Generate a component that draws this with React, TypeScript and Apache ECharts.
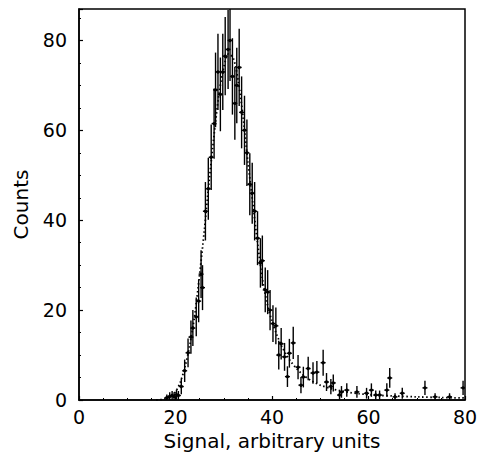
import React, { useEffect, useRef } from "react";
import * as echarts from "echarts";

// Measured points: signal (bin centre), counts, statistical error
const signal = [
  18.2, 18.8, 19.3, 19.7, 20.2, 20.6, 21.2, 21.9, 22.6, 23.2, 23.6, 24.3, 24.8, 25.3, 25.6,
  26.2, 26.8, 27.4, 28.0, 28.3, 28.8, 29.3, 29.8, 30.3, 30.9, 31.3, 31.8, 32.3, 32.7, 33.2,
  33.7, 34.3, 34.8, 35.4, 35.9, 36.4, 37.0, 37.6, 38.0, 38.6, 39.1, 39.6, 40.2, 40.8, 41.4,
  41.9, 42.6, 43.2, 43.6, 44.4, 45.4, 46.0, 46.5, 47.5, 48.5, 49.3, 50.6, 51.3, 52.2, 52.7,
  54.0, 54.4, 55.5, 57.6, 59.6, 60.6, 61.5, 62.3, 63.8, 64.4, 65.5, 67.0, 71.7, 73.8, 76.8,
  79.6,
];
const counts = [
  0.5, 0.8, 1.0, 0.8, 1.2, 1.0, 3.0, 6.5, 10.5, 14.0, 16.0, 18.5, 22.0, 28.0, 25.0,
  42.0, 47.0, 54.0, 61.5, 69.0, 73.0, 68.0, 73.0, 76.5, 78.0, 80.0, 72.0, 66.0, 70.0, 74.0,
  64.0, 60.0, 55.0, 48.0, 46.0, 42.0, 36.0, 30.5, 31.0, 24.5, 24.0, 20.0, 17.0, 16.5, 10.0,
  12.5, 9.6, 5.2, 10.4, 12.7, 7.3, 3.3, 5.1, 7.0, 6.0, 6.2, 8.3, 4.0, 3.0, 3.8,
  1.1, 1.8, 2.2, 1.8, 1.5, 2.2, 1.1, 1.1, 2.2, 4.9, 0.7, 1.5, 2.7, 0.7, 0.7,
  2.7,
];
const errors = [
  0.7, 0.9, 1.0, 0.9, 1.1, 1.0, 1.7, 2.5, 3.2, 3.7, 4.0, 4.3, 4.7, 5.3, 5.0,
  6.5, 6.9, 7.3, 7.8, 8.3, 8.5, 8.2, 8.5, 8.7, 8.8, 9.0, 8.5, 8.1, 8.4, 8.6,
  8.0, 7.7, 7.4, 6.9, 6.8, 6.5, 6.0, 5.5, 5.6, 5.0, 4.9, 4.5, 4.1, 4.1, 3.2,
  3.5, 3.1, 2.3, 3.2, 3.6, 2.7, 1.8, 2.3, 2.6, 2.4, 2.5, 2.9, 2.0, 1.7, 1.9,
  1.0, 1.3, 1.5, 1.3, 1.2, 1.5, 1.0, 1.0, 1.5, 2.2, 0.8, 1.2, 1.6, 0.8, 0.8,
  1.6,
];

// Fitted curve (dotted)
const fitX = [
  16, 17, 18, 19, 20, 21, 22, 23, 24, 25, 26, 27, 28, 29, 30, 31, 32, 33, 34, 35,
  36, 37, 38, 39, 40, 41, 42, 43, 44, 45, 46, 47, 48, 49, 50, 52, 54, 56, 58, 60,
  62, 65, 70, 75, 80,
];
const fitY = [
  0, 0.1, 0.3, 0.8, 1.8, 4, 7.5, 12.5, 19, 28, 38, 49, 59, 68, 74, 77, 76, 71, 63, 53,
  44, 35, 27, 21.5, 17.5, 14.5, 12, 10, 8.4, 7.1, 6, 5.1, 4.4, 3.8, 3.3, 2.6, 2.1, 1.7, 1.4, 1.2,
  1.05, 0.9, 0.7, 0.55, 0.45,
];

const xTicks = [0, 20, 40, 60, 80];
const yTicks = [0, 20, 40, 60, 80];

export default function App() {
  const ref = useRef<HTMLDivElement>(null);
  useEffect(() => {
    document.body.style.margin = "0";
    const chart = echarts.init(ref.current!, null, { renderer: "svg" });
    const font = "'DejaVu Sans', Arial, Helvetica, sans-serif";
    const points = signal.map((s, i) => [s, counts[i], errors[i]]);
    const fit = fitX.map((s, i) => [s, fitY[i]]);
    chart.setOption({
      animation: false,
      backgroundColor: "#fff",
      grid: {
        left: 79,
        right: 15,
        top: 9,
        bottom: 55,
        containLabel: false,
        outerBoundsMode: "none",
        show: true,
        borderColor: "#000",
        borderWidth: 1.5,
      },
      xAxis: {
        type: "value",
        min: xTicks[0],
        max: xTicks[xTicks.length - 1],
        interval: 20,
        name: "Signal, arbitrary units",
        nameLocation: "middle",
        nameGap: 29,
        nameTextStyle: { fontFamily: font, fontSize: 20, color: "#000" },
        axisLine: { show: true, lineStyle: { color: "#000", width: 1.5 } },
        axisTick: { show: true, inside: true, length: 4, lineStyle: { color: "#000", width: 1.2 } },
        minorTick: { show: true, splitNumber: 4, length: 2, lineStyle: { color: "#000", width: 1 } },
        axisLabel: {
          fontFamily: font,
          fontSize: 19,
          color: "#000",
          margin: 7,
          formatter: (v: number) => (xTicks.includes(v) ? String(v) : ""),
        },
        splitLine: { show: false },
      },
      yAxis: {
        type: "value",
        min: yTicks[0],
        max: 87,
        interval: 20,
        name: "Counts",
        nameLocation: "middle",
        nameGap: 48,
        nameTextStyle: { fontFamily: font, fontSize: 20, color: "#000" },
        axisLine: { show: true, lineStyle: { color: "#000", width: 1.5 } },
        axisTick: { show: true, inside: true, length: 4, lineStyle: { color: "#000", width: 1.2 } },
        minorTick: { show: true, splitNumber: 4, length: 2, lineStyle: { color: "#000", width: 1 } },
        axisLabel: {
          fontFamily: font,
          fontSize: 19,
          color: "#000",
          margin: 12,
          showMaxLabel: false,
          formatter: (v: number) => (yTicks.includes(v) ? String(v) : ""),
        },
        splitLine: { show: false },
      },
      series: [
        {
          type: "line",
          data: fit,
          smooth: 0.3,
          symbol: "none",
          lineStyle: { color: "#000", width: 1.8, type: [1.5, 2.5] },
          z: 2,
        },
        {
          type: "custom",
          clip: true,
          data: points,
          z: 3,
          renderItem: (params: any, api: any) => {
            const x = api.value(0);
            const y = api.value(1);
            const e = api.value(2);
            const p = api.coord([x, y]);
            const top = api.coord([x, y + e]);
            const bot = api.coord([x, Math.max(0, y - e)]);
            const hw = 2.5;
            return {
              type: "group",
              children: [
                {
                  type: "line",
                  shape: { x1: p[0], y1: top[1], x2: p[0], y2: bot[1] },
                  style: { stroke: "#000", lineWidth: 1.4 },
                },
                {
                  type: "line",
                  shape: { x1: p[0] - hw, y1: p[1], x2: p[0] + hw, y2: p[1] },
                  style: { stroke: "#000", lineWidth: 1.4 },
                },
                {
                  type: "circle",
                  shape: { cx: p[0], cy: p[1], r: 1.7 },
                  style: { fill: "#000" },
                },
              ],
            };
          },
        },
      ],
    });
    return () => chart.dispose();
  }, []);
  return <div ref={ref} style={{ width: 480, height: 455 }} />;
}
